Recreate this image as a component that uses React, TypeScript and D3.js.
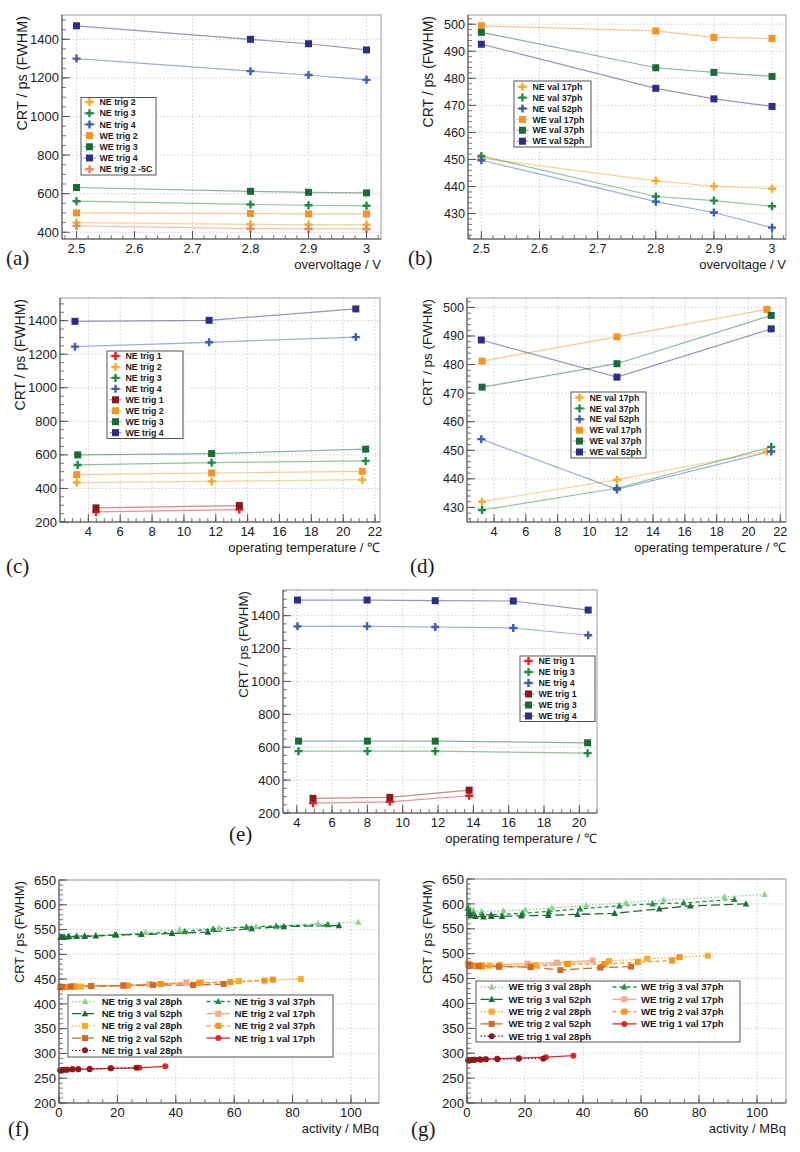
import React from "react";
import * as d3 from "d3";

// ---------------- DATA ----------------
// (a) / (b): overvoltage scans
const overvoltage = [2.5, 2.8, 2.9, 3.0];
const aNEtrig2 = [450, 441, 440, 439];
const aNEtrig3 = [561, 544, 540, 537];
const aNEtrig4 = [1300, 1235, 1215, 1190];
const aWEtrig2 = [500, 497, 495, 495];
const aWEtrig3 = [632, 612, 607, 604];
const aWEtrig4 = [1470, 1400, 1377, 1345];
const aNEtrig2m5C = [433, 419, 417, 417];

const bNEval17 = [450.5, 442.1, 440.1, 439.2];
const bNEval37 = [451.3, 436.3, 434.8, 432.7];
const bNEval52 = [449.7, 434.4, 430.4, 424.8];
const bWEval17 = [499.4, 497.5, 495.1, 494.7];
const bWEval37 = [497.0, 483.9, 482.2, 480.7];
const bWEval52 = [492.6, 476.3, 472.4, 469.6];

// (c): temperature scans (trigger)
const cTempTrig1 = [4.48, 13.48];
const cTempTrig2 = [3.27, 11.74, 21.2];
const cTempTrig3 = [3.33, 11.74, 21.41];
const cTempTrig4 = [3.16, 11.58, 20.79];
const cNEtrig1 = [260, 274];
const cNEtrig2 = [435, 442, 452];
const cNEtrig3 = [540, 554, 564];
const cNEtrig4 = [1245, 1271, 1302];
const cWEtrig1 = [284, 298];
const cWEtrig2 = [482, 492, 502];
const cWEtrig3 = [600, 608, 634];
const cWEtrig4 = [1396, 1402, 1470];

// (d): temperature scans (validation)
const dTemp17 = [3.25, 11.73, 21.16];
const dTemp37 = [3.25, 11.73, 21.43];
const dTemp52 = [3.2, 11.73, 21.43];
const dNEval17 = [432.0, 439.7, 449.6];
const dNEval37 = [429.1, 436.7, 451.2];
const dNEval52 = [453.9, 436.3, 449.6];
const dWEval17 = [481.2, 489.7, 499.3];
const dWEval37 = [472.1, 480.3, 497.2];
const dWEval52 = [488.6, 475.6, 492.5];

// (e): temperature scans, second module
const eTempTrig1 = [4.92, 9.27, 13.76];
const eTempTrig3 = [4.1, 8.0, 11.84, 20.47];
const eTempTrig4 = [4.04, 7.98, 11.84, 16.26, 20.5];
const eNEtrig1 = [260, 268, 305];
const eNEtrig3 = [576, 576, 576, 564];
const eNEtrig4 = [1335, 1335, 1331, 1325, 1281];
const eWEtrig1 = [289, 295, 339];
const eWEtrig3 = [637, 637, 637, 627];
const eWEtrig4 = [1495, 1495, 1491, 1489, 1434];

// (f): activity scans NE
const fT3v28X = [102.5, 88.7, 67.5, 54.8, 41.3, 29.6, 19.6, 12.6, 6.2, 3.1, 1.5, 0.7];
const fT3v28Y = [565, 562, 556, 553, 550, 544, 540, 538, 537, 536, 535, 535];
const fT3v37X = [92.1, 74.4, 64.2, 52.8, 43.0, 28.2, 19.1, 8.8, 3.5, 1.9, 0.8];
const fT3v37Y = [560, 557, 555, 551, 546, 541, 539, 537, 536, 535, 535];
const fT3v52X = [95.9, 77.0, 66.0, 51.0, 38.7, 28.2, 19.6, 12.6, 8.8, 6.0, 3.1, 1.4, 0.5];
const fT3v52Y = [558, 556, 552, 545, 542, 540, 539, 537, 536, 536, 535, 534, 534];
const fT2v17X = [43.6, 31.0, 22.5, 11.0, 5.5, 2.5, 0.8];
const fT2v17Y = [443, 440, 437, 436, 435, 434, 434];
const fT2v28X = [82.8, 61.6, 48.7, 34.5, 22.1, 11.1, 7.6, 5.4, 2.5, 1.0, 0.3];
const fT2v28Y = [450, 446, 443, 440, 437, 436, 435, 435, 434, 434, 433];
const fT2v37X = [73.3, 70.4, 58.7, 48.0, 35.0, 23.6, 11.0, 5.0, 2.0, 0.5];
const fT2v37Y = [449, 447, 444, 442, 440, 437, 436, 435, 434, 434];
const fT2v52X = [56.4, 45.9, 32.2, 22.0, 11.0, 4.0, 1.0];
const fT2v52Y = [440, 438, 438, 437, 436, 435, 434];
const fT1v17X = [36.4, 27.5, 17.8, 10.5, 6.6, 4.6, 2.5, 0.8];
const fT1v17Y = [274, 271, 270, 269, 268, 268, 267, 266];
const fT1v28X = [26.5, 17.7, 10.5, 6.6, 4.6, 2.8, 1.8, 1.0, 0.4];
const fT1v28Y = [271, 270, 268, 268, 268, 267, 267, 266, 266];

// (g): activity scans WE
const gT3v28X = [102.6, 88.8, 67.8, 54.8, 41.1, 29.3, 20.1, 12.6, 5.0, 2.2, 1.1, 0.4];
const gT3v28Y = [619, 614, 608, 602, 597, 592, 588, 586, 585, 587, 590, 597];
const gT3v37X = [92.2, 74.7, 64.0, 52.5, 39.0, 28.2, 19.0, 8.3, 5.2, 2.2, 1.0, 0.3];
const gT3v37Y = [609, 602, 600, 596, 590, 585, 581, 578, 578, 580, 583, 591];
const gT3v52X = [96.2, 77.0, 66.3, 50.9, 38.1, 28.0, 18.7, 12.1, 8.4, 5.7, 2.9, 1.2, 0.5];
const gT3v52Y = [600, 596, 590, 581, 579, 577, 576, 575, 575, 574, 575, 577, 581];
const gT2v17X = [43.4, 31.0, 20.9, 11.3, 5.0, 2.0, 0.6];
const gT2v17Y = [486, 482, 480, 478, 477, 477, 479];
const gT2v28X = [83.0, 62.1, 49.0, 35.0, 23.6, 11.3, 7.8, 5.2, 2.9, 1.1, 0.3];
const gT2v28Y = [496, 490, 485, 480, 477, 475, 476, 476, 476, 477, 480];
const gT2v37X = [73.3, 70.7, 58.9, 47.4, 34.5, 21.8, 11.0, 5.2, 2.0, 0.5];
const gT2v37Y = [493, 486, 483, 479, 479, 474, 474, 474, 475, 478];
const gT2v52X = [56.6, 46.0, 32.2, 22.0, 11.0, 4.0, 1.0];
const gT2v52Y = [474, 472, 467, 473, 474, 475, 477];
const gT1v17X = [36.7, 27.2, 18.0, 10.4, 6.4, 4.4, 2.5, 0.8];
const gT1v17Y = [295, 292, 290, 289, 288, 288, 287, 287];
const gT1v28X = [26.3, 17.8, 10.5, 6.5, 4.7, 2.8, 1.8, 1.0, 0.4];
const gT1v28Y = [289, 289, 288, 288, 287, 287, 287, 286, 286];

// tick values
const voltTicks = [2.5, 2.6, 2.7, 2.8, 2.9, 3.0];
const tempTicksCD = [4, 6, 8, 10, 12, 14, 16, 18, 20, 22];
const tempTicksE = [4, 6, 8, 10, 12, 14, 16, 18, 20];
const crtTicksA = [400, 600, 800, 1000, 1200, 1400];
const crtTicksCE = [200, 400, 600, 800, 1000, 1200, 1400];
const crtTicksBD = [430, 440, 450, 460, 470, 480, 490, 500];
const crtTicksFG = [200, 250, 300, 350, 400, 450, 500, 550, 600, 650];
const activityTicks = [0, 20, 40, 60, 80, 100];

// ---------------- STYLE ----------------
const FONT = "'Liberation Sans', Arial, Helvetica, sans-serif";
const SERIF = "'Liberation Serif', 'DejaVu Serif', serif";
const C = {
  NE1: "#ec1c24", NE2: "#fbaa22", NE3: "#1e8c40", NE4: "#3b5cb8",
  WE1: "#8c1a1a", WE2: "#f7931e", WE3: "#1b6b35", WE4: "#2b2f87",
  NE2m5: "#f4805c",
  lg: "#8fd48b", g37: "#1f8f45", g52: "#1b6b33",
  o17: "#f6a88a", o28: "#fdab1e", o37: "#f7931e", o52: "#d2692a",
  r17: "#ec2227", r28: "#8c1a1a",
};

type MarkerType = "cross" | "square" | "triangle" | "circle";
interface Series {
  name: string; xs: number[]; ys: number[]; color: string; marker: MarkerType;
  size: number; dash?: string; lineOpacity: number; lineWidth: number;
}

const sA = (name: string, xs: number[], ys: number[], color: string, marker: MarkerType): Series =>
  ({ name, xs, ys, color, marker, size: marker === "cross" ? 8 : 7, lineOpacity: 0.5, lineWidth: 1.2 });
const sF = (name: string, xs: number[], ys: number[], color: string, marker: MarkerType, dash?: string): Series =>
  ({ name, xs, ys, color, marker, size: marker === "triangle" ? 6.5 : 6, dash, lineOpacity: 1, lineWidth: 1.3 });

const DOT = "1.5,2";
const DASH = "4,3";
const LDASH = "9,4";

function markerEl(type: MarkerType, x: number, y: number, size: number, color: string, key?: any) {
  const s = size / 2;
  if (type === "circle") return <circle key={key} cx={x} cy={y} r={s} fill={color} />;
  if (type === "square") return <rect key={key} x={x - s} y={y - s} width={size} height={size} fill={color} />;
  if (type === "triangle")
    return <path key={key} d={`M${x},${y - s * 1.15}L${x + s},${y + s * 0.8}L${x - s},${y + s * 0.8}Z`} fill={color} />;
  const w = size * 0.15;
  const a = s - w;
  const d = `M${x - w},${y - s}h${2 * w}v${a}h${a}v${2 * w}h${-a}v${a}h${-2 * w}v${-a}h${-a}v${-2 * w}h${a}z`;
  return <path key={key} d={d} fill={color} />;
}

function minorTicks(dom: number[], step: number) {
  const out: number[] = [];
  const start = Math.ceil(dom[0] / step - 1e-9);
  for (let i = start; i * step <= dom[1] + 1e-9; i++) out.push(i * step);
  return out;
}

interface LegendCfg {
  box: [number, number, number, number];
  rowY0: number; rowStep: number; ncol: number;
  cols: { lx0: number; lx1: number; mx: number; tx: number }[];
  font: number;
}

interface PanelCfg {
  box: { x0: number; x1: number; y0: number; y1: number };
  xDomain: number[]; yDomain: number[];
  xMajor: number[]; xMinor: number; yMajor: number[]; yMinor: number;
  xFmt: (v: number) => string;
  xTitle: string; yTitle: string; yTitleSize: number; tickSize: number;
  label: string; labelX: number; labelY: number;
  series: Series[];
  legend: LegendCfg;
}

function Panel({ cfg }: { cfg: PanelCfg }) {
  const { box } = cfg;
  const x = d3.scaleLinear().domain(cfg.xDomain).range([box.x0, box.x1]);
  const y = d3.scaleLinear().domain(cfg.yDomain).range([box.y1, box.y0]);
  const line = d3.line<[number, number]>().x((d) => x(d[0])).y((d) => y(d[1]));
  const mx = minorTicks(cfg.xDomain, cfg.xMinor);
  const my = minorTicks(cfg.yDomain, cfg.yMinor);
  const axisCol = "#555";
  const L = cfg.legend;
  return (
    <g>
      {cfg.xMajor.map((v, i) => (
        <line key={"gx" + i} x1={x(v)} x2={x(v)} y1={box.y0} y2={box.y1} stroke="#c4c4c4" strokeWidth={0.8} strokeDasharray="1.5,2" />
      ))}
      {cfg.yMajor.map((v, i) => (
        <line key={"gy" + i} x1={box.x0} x2={box.x1} y1={y(v)} y2={y(v)} stroke="#c4c4c4" strokeWidth={0.8} strokeDasharray="1.5,2" />
      ))}
      <rect x={box.x0} y={box.y0} width={box.x1 - box.x0} height={box.y1 - box.y0} fill="none" stroke="#9a9a9a" strokeWidth={1} />
      {cfg.series.map((s, i) => (
        <path key={"l" + i} d={line(s.xs.map((v, j) => [v, s.ys[j]] as [number, number])) || ""}
          fill="none" stroke={s.color} strokeOpacity={s.lineOpacity} strokeWidth={s.lineWidth} strokeDasharray={s.dash} />
      ))}
      {cfg.series.map((s, i) => (
        <g key={"m" + i}>{s.xs.map((v, j) => markerEl(s.marker, x(v), y(s.ys[j]), s.size, s.color, j))}</g>
      ))}
      <line x1={box.x0} x2={box.x0} y1={box.y0} y2={box.y1} stroke={axisCol} strokeWidth={1} />
      <line x1={box.x0} x2={box.x1} y1={box.y1} y2={box.y1} stroke={axisCol} strokeWidth={1} />
      {mx.map((v, i) => (
        <line key={"mx" + i} x1={x(v)} x2={x(v)} y1={box.y1} y2={box.y1 - 4} stroke={axisCol} strokeWidth={0.8} />
      ))}
      {my.map((v, i) => (
        <line key={"my" + i} x1={box.x0} x2={box.x0 + 4} y1={y(v)} y2={y(v)} stroke={axisCol} strokeWidth={0.8} />
      ))}
      {cfg.xMajor.map((v, i) => (
        <g key={"tx" + i}>
          <line x1={x(v)} x2={x(v)} y1={box.y1} y2={box.y1 - 8} stroke={axisCol} strokeWidth={1} />
          <text x={x(v)} y={box.y1 + 14} textAnchor="middle" fontFamily={FONT} fontSize={cfg.tickSize} fill="#1a1a1a">{cfg.xFmt(v)}</text>
        </g>
      ))}
      {cfg.yMajor.map((v, i) => (
        <g key={"ty" + i}>
          <line x1={box.x0} x2={box.x0 + 8} y1={y(v)} y2={y(v)} stroke={axisCol} strokeWidth={1} />
          <text x={box.x0 - 3} y={y(v)} dy="0.35em" textAnchor="end" fontFamily={FONT} fontSize={cfg.tickSize} fill="#1a1a1a">{String(v)}</text>
        </g>
      ))}
      <text x={box.x1} y={box.y1 + 30} textAnchor="end" fontFamily={FONT} fontSize={13} fill="#1a1a1a">{cfg.xTitle}</text>
      <text transform={`translate(${box.x0 - 35},${box.y0 + 1}) rotate(-90)`} textAnchor="end" fontFamily={FONT} fontSize={cfg.yTitleSize} fill="#1a1a1a">{cfg.yTitle}</text>
      <text x={cfg.labelX} y={cfg.labelY} fontFamily={SERIF} fontSize={21} fill="#1a1a1a">{cfg.label}</text>
      <rect x={L.box[0]} y={L.box[1]} width={L.box[2] - L.box[0]} height={L.box[3] - L.box[1]} fill="#fff" stroke="#555" strokeWidth={1} />
      {cfg.series.map((s, i) => {
        const row = L.ncol === 1 ? i : Math.floor(i / L.ncol);
        const col = L.ncol === 1 ? 0 : i % L.ncol;
        const c = L.cols[col];
        const yy = L.rowY0 + row * L.rowStep;
        return (
          <g key={"lg" + i}>
            <line x1={c.lx0} x2={c.lx1} y1={yy} y2={yy} stroke={s.color} strokeOpacity={s.lineOpacity} strokeWidth={s.lineWidth} strokeDasharray={s.dash} />
            {markerEl(s.marker, c.mx, yy, s.size, s.color)}
            <text x={c.tx} y={yy} dy="0.36em" fontFamily={FONT} fontWeight="bold" fontSize={L.font} fill="#1a1a1a">{s.name}</text>
          </g>
        );
      })}
    </g>
  );
}

const fmtInt = (v: number) => String(v);
const fmtVolt = (v: number) => String(+v.toFixed(1));
const col1 = (x0: number) => [{ lx0: x0 + 2.5, lx1: x0 + 14.5, mx: x0 + 8.5, tx: x0 + 18.5 }];

const panels: PanelCfg[] = [
  {
    box: { x0: 62, x1: 381, y0: 15, y1: 239 }, xDomain: [2.475, 3.025], yDomain: [365, 1526],
    xMajor: voltTicks, xMinor: 0.02, yMajor: crtTicksA, yMinor: 50, xFmt: fmtVolt,
    xTitle: "overvoltage / V", yTitle: "CRT / ps (FWHM)", yTitleSize: 14.4, tickSize: 13,
    label: "(a)", labelX: 6, labelY: 265,
    series: [
      sA("NE trig 2", overvoltage, aNEtrig2, C.NE2, "cross"),
      sA("NE trig 3", overvoltage, aNEtrig3, C.NE3, "cross"),
      sA("NE trig 4", overvoltage, aNEtrig4, C.NE4, "cross"),
      sA("WE trig 2", overvoltage, aWEtrig2, C.WE2, "square"),
      sA("WE trig 3", overvoltage, aWEtrig3, C.WE3, "square"),
      sA("WE trig 4", overvoltage, aWEtrig4, C.WE4, "square"),
      sA("NE trig 2 -5C", overvoltage, aNEtrig2m5C, C.NE2m5, "cross"),
    ],
    legend: { box: [81, 97.5, 156, 175], rowY0: 102, rowStep: 11.2, ncol: 1, cols: col1(81), font: 8.8 },
  },
  {
    box: { x0: 468, x1: 786, y0: 15, y1: 239 }, xDomain: [2.477, 3.024], yDomain: [420.6, 503.4],
    xMajor: voltTicks, xMinor: 0.02, yMajor: crtTicksBD, yMinor: 2, xFmt: fmtVolt,
    xTitle: "overvoltage / V", yTitle: "CRT / ps (FWHM)", yTitleSize: 14, tickSize: 12.6,
    label: "(b)", labelX: 408, labelY: 265,
    series: [
      sA("NE val 17ph", overvoltage, bNEval17, C.NE2, "cross"),
      sA("NE val 37ph", overvoltage, bNEval37, C.NE3, "cross"),
      sA("NE val 52ph", overvoltage, bNEval52, C.NE4, "cross"),
      sA("WE val 17ph", overvoltage, bWEval17, C.WE2, "square"),
      sA("WE val 37ph", overvoltage, bWEval37, C.WE3, "square"),
      sA("WE val 52ph", overvoltage, bWEval52, C.WE4, "square"),
    ],
    legend: { box: [514, 81, 591, 147], rowY0: 86.7, rowStep: 10.9, ncol: 1, cols: col1(514), font: 8.8 },
  },
  {
    box: { x0: 60, x1: 380, y0: 298, y1: 522 }, xDomain: [2.22, 22.31], yDomain: [200, 1535],
    xMajor: tempTicksCD, xMinor: 0.5, yMajor: crtTicksCE, yMinor: 50, xFmt: fmtInt,
    xTitle: "operating temperature / ℃", yTitle: "CRT / ps (FWHM)", yTitleSize: 14, tickSize: 13,
    label: "(c)", labelX: 6, labelY: 573,
    series: [
      sA("NE trig 1", cTempTrig1, cNEtrig1, C.NE1, "cross"),
      sA("NE trig 2", cTempTrig2, cNEtrig2, C.NE2, "cross"),
      sA("NE trig 3", cTempTrig3, cNEtrig3, C.NE3, "cross"),
      sA("NE trig 4", cTempTrig4, cNEtrig4, C.NE4, "cross"),
      sA("WE trig 1", cTempTrig1, cWEtrig1, C.WE1, "square"),
      sA("WE trig 2", cTempTrig2, cWEtrig2, C.WE2, "square"),
      sA("WE trig 3", cTempTrig3, cWEtrig3, C.WE3, "square"),
      sA("WE trig 4", cTempTrig4, cWEtrig4, C.WE4, "square"),
    ],
    legend: { box: [107, 351, 183, 438.5], rowY0: 356, rowStep: 10.95, ncol: 1, cols: col1(107), font: 8.8 },
  },
  {
    box: { x0: 467, x1: 786, y0: 298, y1: 522 }, xDomain: [2.3, 22.36], yDomain: [424.9, 503.3],
    xMajor: tempTicksCD, xMinor: 0.5, yMajor: crtTicksBD, yMinor: 2, xFmt: fmtInt,
    xTitle: "operating temperature / ℃", yTitle: "CRT / ps (FWHM)", yTitleSize: 13.4, tickSize: 12.6,
    label: "(d)", labelX: 410, labelY: 573,
    series: [
      sA("NE val 17ph", dTemp17, dNEval17, C.NE2, "cross"),
      sA("NE val 37ph", dTemp37, dNEval37, C.NE3, "cross"),
      sA("NE val 52ph", dTemp52, dNEval52, C.NE4, "cross"),
      sA("WE val 17ph", dTemp17, dWEval17, C.WE2, "square"),
      sA("WE val 37ph", dTemp37, dWEval37, C.WE3, "square"),
      sA("WE val 52ph", dTemp52, dWEval52, C.WE4, "square"),
    ],
    legend: { box: [571, 392, 646, 458], rowY0: 397.5, rowStep: 10.9, ncol: 1, cols: col1(571), font: 8.8 },
  },
  {
    box: { x0: 283, x1: 597, y0: 590, y1: 813 }, xDomain: [3.22, 21.0], yDomain: [200, 1556],
    xMajor: tempTicksE, xMinor: 0.5, yMajor: crtTicksCE, yMinor: 50, xFmt: fmtInt,
    xTitle: "operating temperature / ℃", yTitle: "CRT / ps (FWHM)", yTitleSize: 13.4, tickSize: 13,
    label: "(e)", labelX: 229, labelY: 841,
    series: [
      sA("NE trig 1", eTempTrig1, eNEtrig1, C.NE1, "cross"),
      sA("NE trig 3", eTempTrig3, eNEtrig3, C.NE3, "cross"),
      sA("NE trig 4", eTempTrig4, eNEtrig4, C.NE4, "cross"),
      sA("WE trig 1", eTempTrig1, eWEtrig1, C.WE1, "square"),
      sA("WE trig 3", eTempTrig3, eWEtrig3, C.WE3, "square"),
      sA("WE trig 4", eTempTrig4, eWEtrig4, C.WE4, "square"),
    ],
    legend: { box: [520, 656, 595, 721.5], rowY0: 661, rowStep: 11, ncol: 1, cols: col1(520), font: 8.8 },
  },
  {
    box: { x0: 59, x1: 379, y0: 880, y1: 1103 }, xDomain: [0, 109.6], yDomain: [200, 650],
    xMajor: activityTicks, xMinor: 5, yMajor: crtTicksFG, yMinor: 10, xFmt: fmtInt,
    xTitle: "activity / MBq", yTitle: "CRT / ps (FWHM)", yTitleSize: 12.8, tickSize: 13.2,
    label: "(f)", labelX: 8, labelY: 1136,
    series: [
      sF("NE trig 3 val 28ph", fT3v28X, fT3v28Y, C.lg, "triangle", DOT),
      sF("NE trig 3 val 37ph", fT3v37X, fT3v37Y, C.g37, "triangle", DASH),
      sF("NE trig 3 val 52ph", fT3v52X, fT3v52Y, C.g52, "triangle", LDASH),
      sF("NE trig 2 val 17ph", fT2v17X, fT2v17Y, C.o17, "square"),
      sF("NE trig 2 val 28ph", fT2v28X, fT2v28Y, C.o28, "square", DOT),
      sF("NE trig 2 val 37ph", fT2v37X, fT2v37Y, C.o37, "square", DASH),
      sF("NE trig 2 val 52ph", fT2v52X, fT2v52Y, C.o52, "square", LDASH),
      sF("NE trig 1 val 17ph", fT1v17X, fT1v17Y, C.r17, "circle"),
      sF("NE trig 1 val 28ph", fT1v28X, fT1v28Y, C.r28, "circle", DOT),
    ],
    legend: {
      box: [68, 995, 333, 1057], rowY0: 1001.5, rowStep: 12.2, ncol: 2,
      cols: [{ lx0: 72, lx1: 96, mx: 85, tx: 101.7 }, { lx0: 206.5, lx1: 230, mx: 218.3, tx: 234.5 }], font: 9.6,
    },
  },
  {
    box: { x0: 467, x1: 786, y0: 879, y1: 1103 }, xDomain: [0, 110], yDomain: [200, 650],
    xMajor: activityTicks, xMinor: 5, yMajor: crtTicksFG, yMinor: 10, xFmt: fmtInt,
    xTitle: "activity / MBq", yTitle: "CRT / ps (FWHM)", yTitleSize: 13, tickSize: 13.2,
    label: "(g)", labelX: 411, labelY: 1136,
    series: [
      sF("WE trig 3 val 28ph", gT3v28X, gT3v28Y, C.lg, "triangle", DOT),
      sF("WE trig 3 val 37ph", gT3v37X, gT3v37Y, C.g37, "triangle", DASH),
      sF("WE trig 3 val 52ph", gT3v52X, gT3v52Y, C.g52, "triangle", LDASH),
      sF("WE trig 2 val 17ph", gT2v17X, gT2v17Y, C.o17, "square"),
      sF("WE trig 2 val 28ph", gT2v28X, gT2v28Y, C.o28, "square", DOT),
      sF("WE trig 2 val 37ph", gT2v37X, gT2v37Y, C.o37, "square", DASH),
      sF("WE trig 2 val 52ph", gT2v52X, gT2v52Y, C.o52, "square", LDASH),
      sF("WE trig 1 val 17ph", gT1v17X, gT1v17Y, C.r17, "circle"),
      sF("WE trig 1 val 28ph", gT1v28X, gT1v28Y, C.r28, "circle", DOT),
    ],
    legend: {
      box: [476, 981, 740, 1042], rowY0: 987, rowStep: 12.3, ncol: 2,
      cols: [{ lx0: 480.5, lx1: 503, mx: 491.7, tx: 508.5 }, { lx0: 612.5, lx1: 636.5, mx: 624.3, tx: 641 }], font: 9.6,
    },
  },
];

export default function App() {
  return (
    <svg width={800} height={1152} viewBox="0 0 800 1152"
      style={{ position: "absolute", left: 0, top: 0, background: "#fff" }}>
      <rect x={0} y={0} width={800} height={1152} fill="#fff" />
      {panels.map((p, i) => <Panel key={i} cfg={p} />)}
    </svg>
  );
}
